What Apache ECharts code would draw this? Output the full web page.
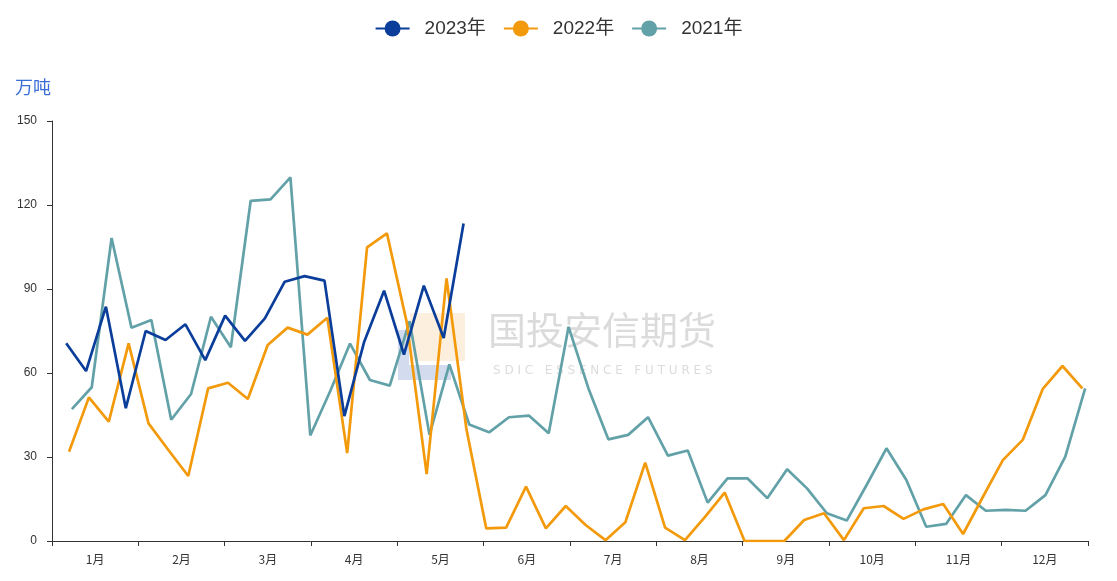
<!DOCTYPE html>
<html>
<head>
<meta charset="utf-8">
<script src="https://cdn.jsdelivr.net/npm/echarts@6/dist/echarts.min.js"></script>
<style>
html,body{margin:0;padding:0;background:#fff;}
#c{width:1117px;height:581px;}
</style>
</head>
<body>
<div id="c"></div>
<script>
// Month labels (category axis) and y ticks
var months = ['1月','2月','3月','4月','5月','6月','7月','8月','9月','10月','11月','12月'];
var seriesNames = ['2023年','2022年','2021年'];
// Day-of-year (0 = Jan 1) of the first weekly (Friday) observation of each year
var firstDay2023 = 5;   // 2023-01-06
var firstDay2022 = 6;   // 2022-01-07
var firstDay2021 = 7;   // 2021-01-08

// Weekly values, 万吨
var values2023 = [70.6, 60.7, 83.7, 47.4, 75, 71.8, 77.4, 64.6, 80.5, 71.5, 79.5, 92.6, 94.6, 93, 44.6, 71.2, 89.4, 66.6, 91.2, 72.5, 113.4];
var values2022 = [31.9, 51.3, 42.6, 70.6, 42, 32.5, 23.2, 54.5, 56.5, 50.7, 70, 76.2, 73.7, 79.7, 31.4, 104.9, 109.9, 78, 23.9, 93.8, 40, 4.5, 4.8, 19.4, 4.5, 12.5, 5.7, 0.3, 6.7, 28, 4.8, 0.3, 8.5, 17.3, 0, 0, 0, 7.5, 9.9, 0.3, 11.7, 12.5, 7.9, 11.3, 13.2, 2.5, 15.8, 28.9, 36.1, 54.2, 62.5, 54.5];
var values2021 = [47.1, 54.9, 108.2, 76.2, 78.9, 43.3, 52.5, 80.1, 69.2, 121.5, 122, 129.9, 37.7, 53.5, 70.5, 57.5, 55.5, 78.5, 37.9, 63.1, 41.6, 38.8, 44.2, 44.8, 38.5, 76.5, 54.5, 36.3, 37.9, 44.2, 30.5, 32.3, 13.7, 22.4, 22.4, 15.3, 25.6, 18.8, 9.9, 7.3, 20, 33.1, 21.8, 5.1, 6.1, 16.4, 10.8, 11.1, 10.8, 16.4, 30.1, 54.5];

function weekly(firstDay, vals) {
  return vals.map(function (v, i) { return [firstDay + 7 * i, v]; });
}

var colors = ['#0b3e9a', '#f39a0c', '#62a1a8'];
var chart = echarts.init(document.getElementById('c'));
chart.setOption({
  animation: false,
  color: colors,
  legend: {
    top: 14,
    left: 'center',
    itemWidth: 34,
    itemHeight: 20,
    itemGap: 17,
    textStyle: { fontSize: 19, color: '#333', padding: [0, 0, 0, 10], fontFamily: 'Liberation Sans, Noto Sans CJK SC' },
    data: seriesNames
  },
  grid: { left: 52, right: 29, top: 121, bottom: 40 },
  xAxis: [{
    type: 'category',
    data: months,
    boundaryGap: true,
    axisLine: { lineStyle: { color: '#333', width: 1 } },
    axisTick: { show: true, length: 5, lineStyle: { color: '#333' } },
    axisLabel: { color: '#333', fontSize: 12, margin: 12, fontFamily: 'Noto Sans CJK SC' }
  }, {
    type: 'value',
    min: 0,
    max: 365,
    show: false
  }],
  yAxis: {
    type: 'value',
    min: 0,
    max: 150,
    interval: 30,
    name: '万吨',
    nameLocation: 'end',
    nameGap: 25,
    nameTextStyle: { color: '#3b6fd6', fontSize: 18, align: 'right', padding: [0, 1, 0, 0], fontFamily: 'Noto Sans CJK SC' },
    axisLine: { show: true, lineStyle: { color: '#333', width: 1 } },
    axisTick: { show: true, length: 5, lineStyle: { color: '#333' } },
    axisLabel: { color: '#333', fontSize: 12, margin: 15 },
    splitLine: { show: false }
  },
  graphic: [
    { type: 'rect', z: 0, silent: true, shape: { x: 410, y: 313, width: 55, height: 48 }, style: { fill: 'rgba(247,190,120,0.25)' } },
    { type: 'rect', z: 0, silent: true, shape: { x: 398, y: 330, width: 11, height: 50 }, style: { fill: 'rgba(110,140,200,0.30)' } },
    { type: 'rect', z: 0, silent: true, shape: { x: 409, y: 365, width: 42, height: 15 }, style: { fill: 'rgba(110,140,200,0.30)' } },
    { type: 'text', z: 0, silent: true, left: 488, top: 311, style: { text: '国投安信期货', fill: 'rgba(175,175,175,0.45)', font: '38px "Noto Sans CJK SC"' } },
    { type: 'text', z: 0, silent: true, left: 493, top: 365, style: { text: 'S D I C   E S S E N C E   F U T U R E S', fill: 'rgba(175,175,175,0.45)', font: '12px "DejaVu Sans"' } }
  ],
  series: [
    { name: seriesNames[0], type: 'line', xAxisIndex: 1, data: weekly(firstDay2023, values2023), symbol: 'circle', showSymbol: false, lineStyle: { width: 2.7 }, z: 4 },
    { name: seriesNames[1], type: 'line', xAxisIndex: 1, data: weekly(firstDay2022, values2022), symbol: 'circle', showSymbol: false, lineStyle: { width: 2.7 }, z: 3 },
    { name: seriesNames[2], type: 'line', xAxisIndex: 1, data: weekly(firstDay2021, values2021), symbol: 'circle', showSymbol: false, lineStyle: { width: 2.7 }, z: 2 }
  ]
});
</script>
</body>
</html>
